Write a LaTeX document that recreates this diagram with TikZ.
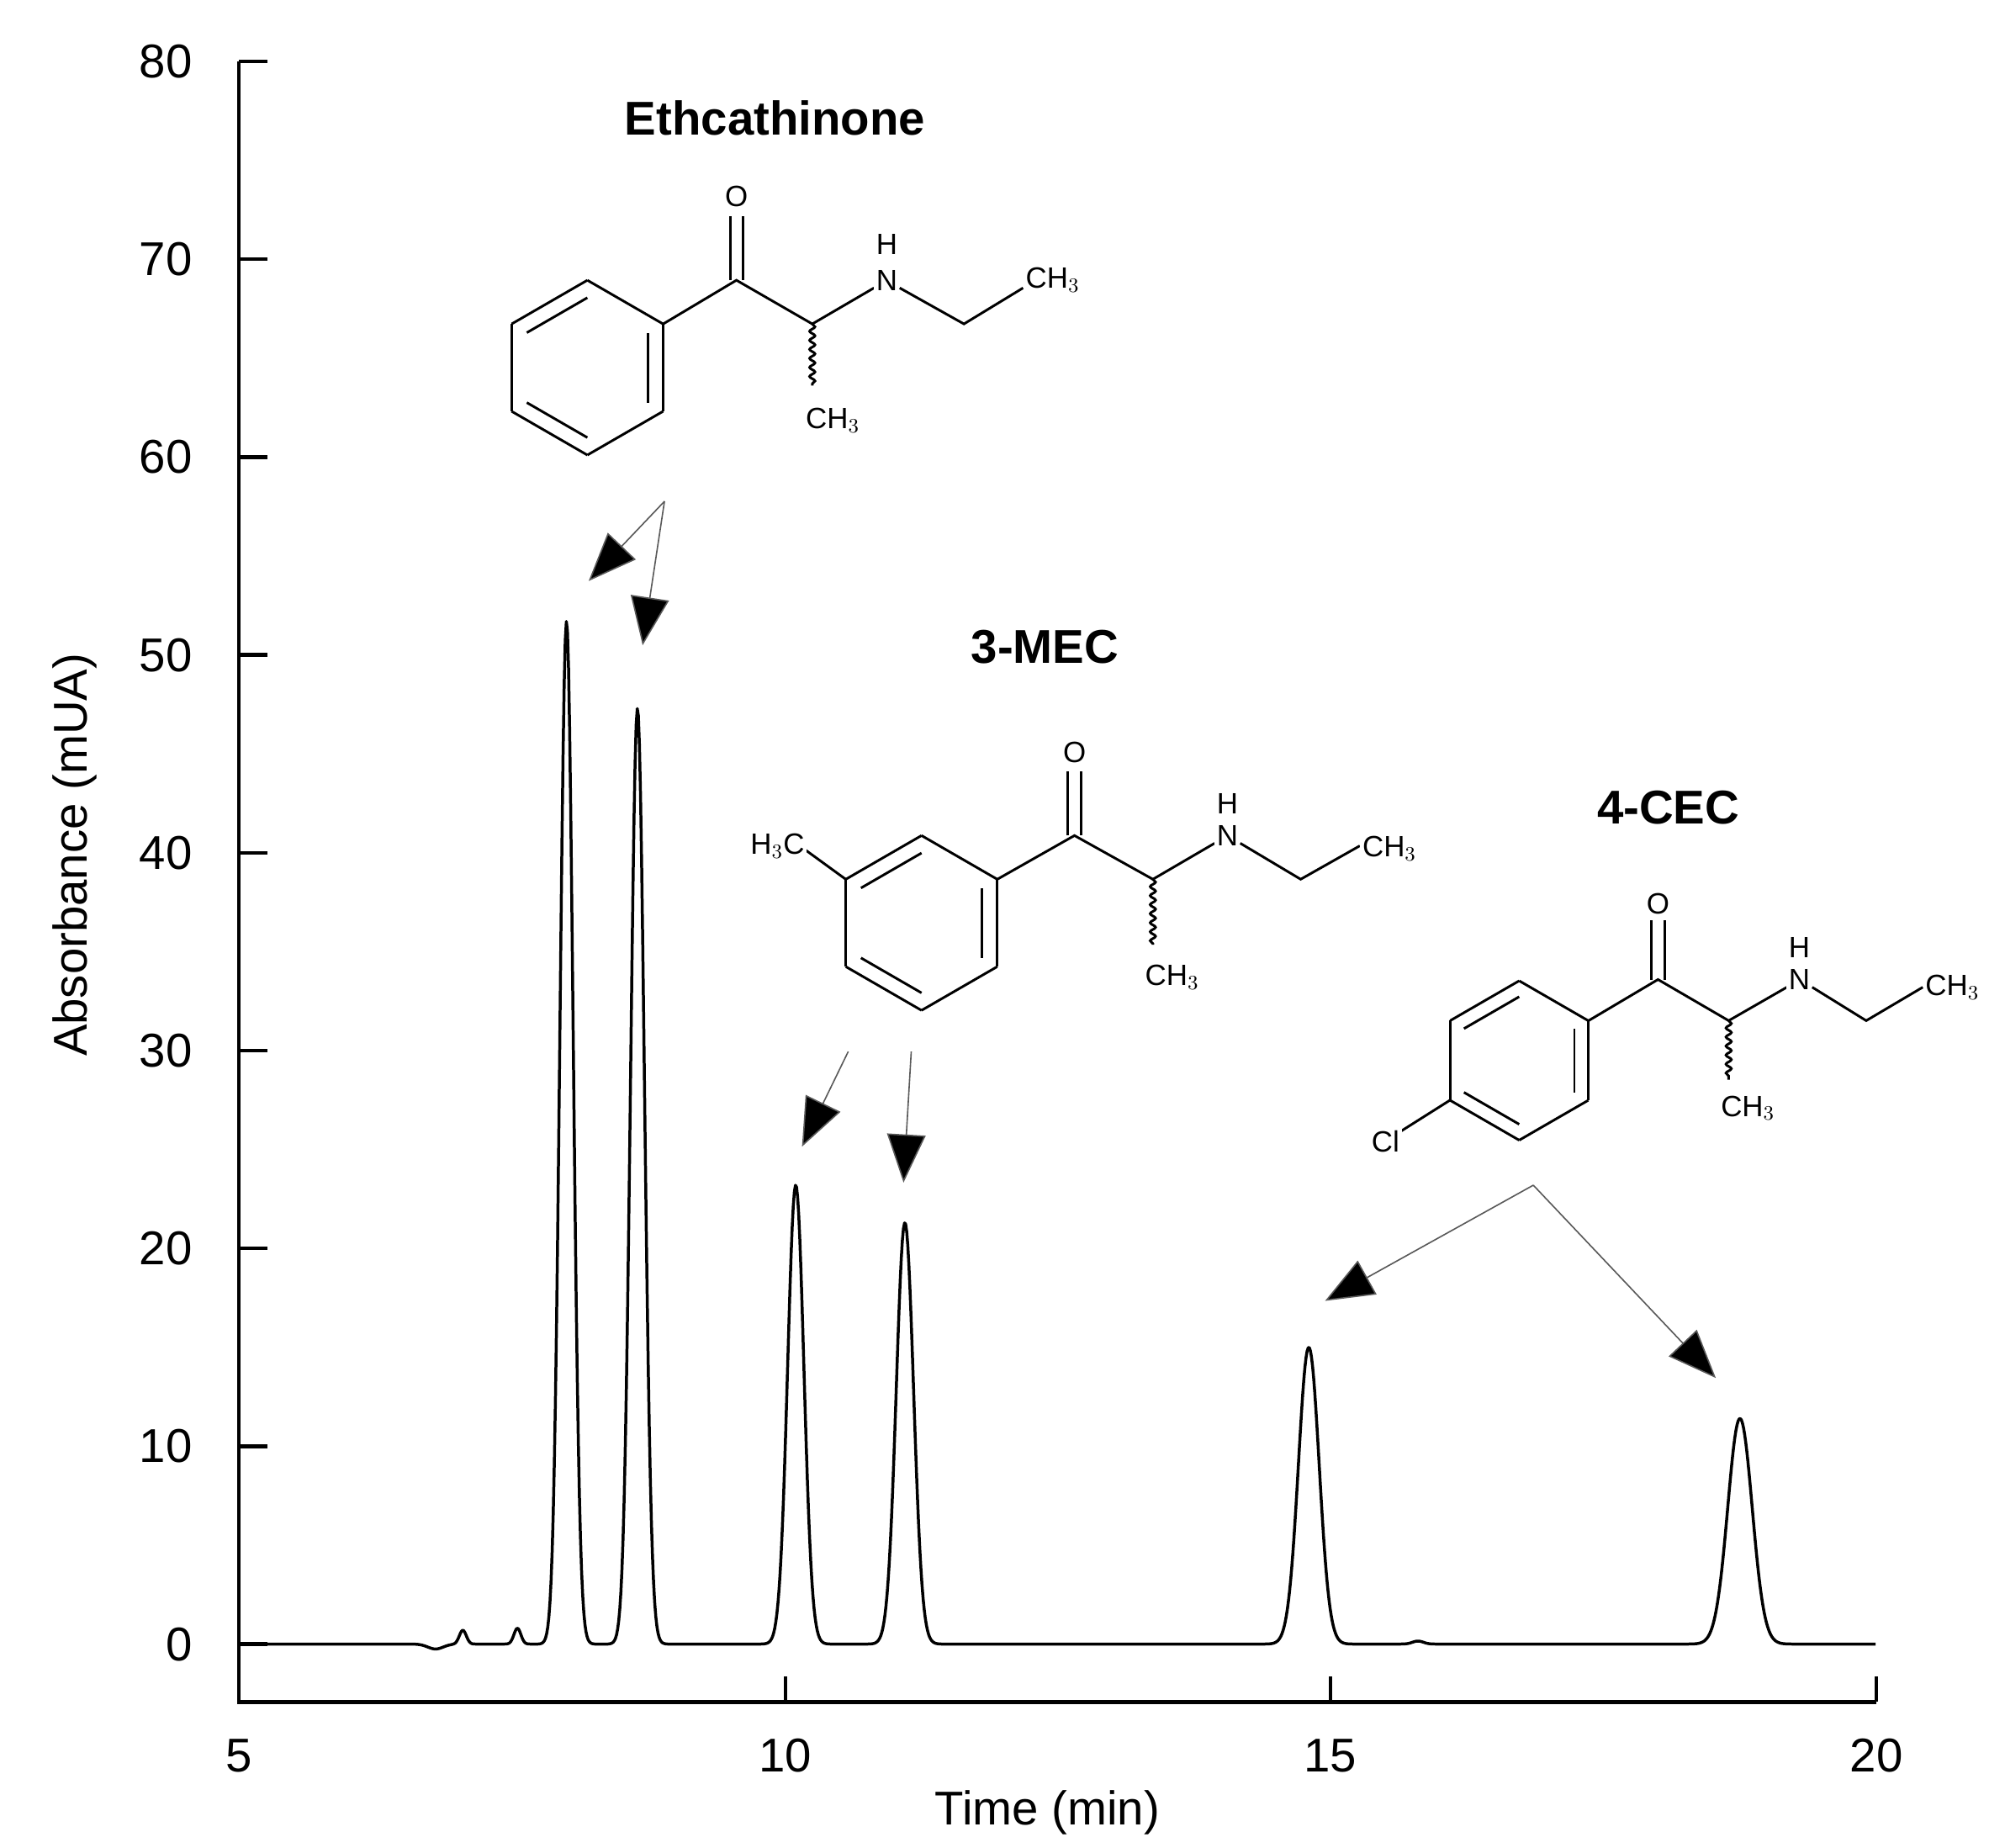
\documentclass[tikz,border=0pt]{standalone}
\usepackage{fontspec}
\setmainfont{Liberation Sans}
\usetikzlibrary{arrows.meta,decorations.pathmorphing}
\begin{document}
\begin{tikzpicture}[x=0.02cm,y=-0.02cm,
  declare function={g(\t,\m,\w)=exp(-(min(abs(\t-\m)/\w,8))^2);},
  lbl/.style={font=\fontsize{21}{24}\selectfont,inner sep=0pt},
  ttl/.style={font=\fontsize{21}{24}\selectfont\bfseries,inner sep=0pt},
  atom/.style={font=\fontsize{13}{15}\selectfont,inner sep=1pt,fill=white},
  bond/.style={line width=1.1pt},
  ptr/.style={gray!70!black,line width=0.6pt,-{Triangle[length=0.75cm,width=0.6cm,fill=black]}},
  axis/.style={line width=1.6pt}]
\useasboundingbox (0,0) rectangle (1560,1437);
% axes
\draw[axis] (186,48) -- (186,1324) -- (1460,1324);
\foreach \v [count=\i from 0] in {0,10,...,80}{
  \draw[axis] (186,{1279-153.9*\i}) -- (208,{1279-153.9*\i});
  \node[lbl,anchor=east] (yt\i) at (150,{1279-153.9*\i}) {\v};}
\foreach \v/\xx in {5/186,10/611,15/1035,20/1460}{
  \draw[axis] (\xx,1324) -- (\xx,1304);
  \node[lbl] (xt\v) at (\xx,1366) {\v};}
\node[lbl] (xl) at (815,1410) {Time (min)};
\node[lbl,rotate=90] (yl) at (58,665) {Absorbance (mUA)};
% chromatogram
\draw[line width=1.3pt,line join=round] plot[domain=5:20,samples=1500]
 ({186+(\x-5)*84.93},{1279-15.39*(
  51.7*g(\x,8.0,0.0849)+47.3*g(\x,8.65,0.0894)
 +23.2*g(\x,10.1,0.1049)+21.3*g(\x,11.1,0.1118)
 +15*g(\x,14.8,0.1342)+11.4*g(\x,18.75,0.1581)
 +0.7*g(\x,7.05,0.0447)+0.8*g(\x,7.55,0.0447)
 -0.25*g(\x,6.8,0.1)+0.15*g(\x,15.8,0.0707))});
% titles
\node[ttl] (t1) at (603,92) {Ethcathinone};
\node[ttl] (t2) at (813,503) {3-MEC};
\node[ttl] (t3) at (1298,628) {4-CEC};
\newcommand{\ring}[3]{%
  \foreach \a in {30,90,...,330}{\draw[bond] ({#1+#3*cos(\a)},{#2-#3*sin(\a)}) -- ({#1+#3*cos(\a+60)},{#2-#3*sin(\a+60)});}
  \foreach \a in {30,150,270}{\draw[bond] ({#1+0.8*#3*cos(\a-60)},{#2-0.8*#3*sin(\a-60)}) -- ({#1+0.8*#3*cos(\a)},{#2-0.8*#3*sin(\a)});}}
% Ethcathinone
\ring{457}{286}{68}
\draw[bond] (516,252) -- (573,218) -- (632,252) -- (680,224);
\draw[bond] (568,218) -- (568,168); \draw[bond] (578,218) -- (578,168);
\node[atom] (o1) at (573,153) {O};
\draw[bond,decorate,decoration={snake,amplitude=1.2pt,segment length=4pt}] (632,252) -- (632,300);
\node[atom] (m1) at (648,327) {CH$_3$};
\node[atom] (n1) at (690,218) {N}; \node[atom] (h1) at (690,190) {H};
\draw[bond] (700,224) -- (750,252) -- (796,224);
\node[atom,anchor=west] (c1) at (796,218) {CH$_3$};
% 3-MEC
\ring{717}{718}{68}
\draw[bond] (658,684) -- (625,660);
\node[atom,anchor=east] (m2a) at (628,658) {H$_3$C};
\draw[bond] (776,684) -- (836,650) -- (897,684) -- (945,656);
\draw[bond] (831,650) -- (831,600); \draw[bond] (841,650) -- (841,600);
\node[atom] (o2) at (836,585) {O};
\draw[bond,decorate,decoration={snake,amplitude=1.2pt,segment length=4pt}] (897,684) -- (897,735);
\node[atom] (m2) at (912,760) {CH$_3$};
\node[atom] (n2) at (955,650) {N}; \node[atom] (h2) at (955,625) {H};
\draw[bond] (965,656) -- (1012,684) -- (1058,658);
\node[atom,anchor=west] (c2) at (1058,660) {CH$_3$};
% 4-CEC
\ring{1182}{825}{62}
\draw[bond] (1128,856) -- (1090,880);
\node[atom] (cl) at (1078,888) {Cl};
\draw[bond] (1236,794) -- (1290,762) -- (1345,794) -- (1392,767);
\draw[bond] (1285,762) -- (1285,716); \draw[bond] (1295,762) -- (1295,716);
\node[atom] (o3) at (1290,703) {O};
\draw[bond,decorate,decoration={snake,amplitude=1.2pt,segment length=4pt}] (1345,794) -- (1345,840);
\node[atom] (m3) at (1360,862) {CH$_3$};
\node[atom] (n3) at (1400,762) {N}; \node[atom] (h3) at (1400,737) {H};
\draw[bond] (1410,768) -- (1452,794) -- (1496,768);
\node[atom,anchor=west] (c3) at (1496,768) {CH$_3$};
% pointers
\coordinate (s1) at (517,390); \coordinate (e1a) at (458,452); \coordinate (e1b) at (500,502);
\coordinate (s2a) at (660,818); \coordinate (e2a) at (624,892);
\coordinate (s2b) at (709,818); \coordinate (e2b) at (703,920);
\coordinate (s3) at (1193,922); \coordinate (e3a) at (1031,1012); \coordinate (e3b) at (1335,1072);
\draw[ptr] (s1) -- (e1a); \draw[ptr] (s1) -- (e1b);
\draw[ptr] (s2a) -- (e2a); \draw[ptr] (s2b) -- (e2b);
\draw[ptr] (s3) -- (e3a); \draw[ptr] (s3) -- (e3b);
\end{tikzpicture}
\end{document}
